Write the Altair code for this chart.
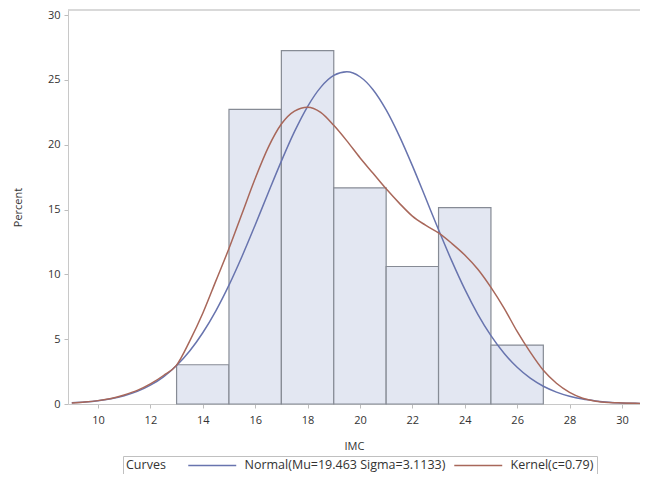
import altair as alt
import pandas as pd

# Histogram bins (IMC) and percentages
bin_start = [13, 15, 17, 19, 21, 23, 25]
bin_end = [15, 17, 19, 21, 23, 25, 27]
bin_pct = [3.03, 22.73, 27.27, 16.67, 10.61, 15.15, 4.55]

# Curve x positions
curve_x = [9, 9.5, 10, 10.5, 11, 11.5, 12, 12.5, 13, 13.5, 14, 14.5, 15, 15.5,
           16, 16.5, 17, 17.5, 18, 18.5, 19, 19.5, 20, 20.5, 21, 21.5, 22, 22.5,
           23, 23.5, 24, 24.5, 25, 25.5, 26, 26.5, 27, 27.5, 28, 28.5, 29, 29.5,
           30, 30.5, 30.9]

normal_y = [0.09, 0.15, 0.25, 0.41, 0.64, 0.97, 1.45, 2.10, 2.97, 4.09, 5.50, 7.19,
            9.17, 11.40, 13.81, 16.30, 18.74, 21.01, 22.95, 24.43, 25.35, 25.63,
            25.25, 24.25, 22.69, 20.69, 18.39, 15.93, 13.44, 11.06, 8.86, 6.92,
            5.27, 3.91, 2.83, 1.99, 1.37, 0.92, 0.60, 0.38, 0.24, 0.14, 0.08, 0.05,
            0.03]

kernel_y = [0.08, 0.15, 0.26, 0.43, 0.70, 1.05, 1.55, 2.20, 3.00, 4.85, 7.00, 9.50,
            12.00, 14.70, 17.40, 19.80, 21.60, 22.60, 22.90, 22.50, 21.50, 20.30,
            19.00, 17.80, 16.60, 15.50, 14.50, 13.80, 13.20, 12.40, 11.50, 10.40,
            9.00, 7.40, 5.60, 4.00, 2.60, 1.60, 0.90, 0.45, 0.22, 0.12, 0.08, 0.05,
            0.03]

normal_name = "Normal(Mu=19.463 Sigma=3.1133)"
kernel_name = "Kernel(c=0.79)"

x_ticks = [10, 12, 14, 16, 18, 20, 22, 24, 26, 28, 30]
y_ticks = [0, 5, 10, 15, 20, 25, 30]

bars_df = pd.DataFrame({"start": bin_start, "end": bin_end, "pct": bin_pct})
curves_df = pd.concat([
    pd.DataFrame({"x": curve_x, "y": normal_y, "curve": normal_name, "order": 0}),
    pd.DataFrame({"x": curve_x, "y": kernel_y, "curve": kernel_name, "order": 1}),
])

FONT = "Open Sans"
W, H = 572, 394
xscale = alt.Scale(domain=[8.855, 30.69], nice=False, zero=False)
yscale = alt.Scale(domain=[0, 30.4], nice=False)

xaxis = alt.Axis(values=x_ticks, title="IMC", grid=False, domain=True,
                 domainColor="#c8c8c8", tickColor="#bdbdbd", tickSize=4,
                 labelPadding=6, titlePadding=15, labelFont=FONT, titleFont=FONT,
                 labelFontSize=11, titleFontSize=11, titleFontWeight="normal",
                 labelColor="#333333", titleColor="#333333", labelFlush=False)
yaxis = alt.Axis(values=y_ticks, title="Percent", grid=False, domain=True,
                 domainColor="#c8c8c8", tickColor="#bdbdbd", tickSize=4,
                 labelPadding=4, labelFont=FONT, titleFont=FONT,
                 labelFontSize=11, titleFontSize=11, titleFontWeight="normal",
                 labelColor="#333333", titleColor="#333333", titleX=-45)

bars = alt.Chart(bars_df).mark_rect(
    fill="#e3e7f2", stroke="#868b95", strokeWidth=1.2
).encode(
    x=alt.X("start:Q", scale=xscale, axis=xaxis),
    x2="end:Q",
    y=alt.Y("pct:Q", scale=yscale, axis=yaxis),
    y2=alt.datum(0),
)

lines = alt.Chart(curves_df).mark_line(
    strokeWidth=1.5, interpolate="monotone", clip=True
).encode(
    x=alt.X("x:Q", scale=xscale, axis=xaxis),
    y=alt.Y("y:Q", scale=yscale, axis=yaxis),
    color=alt.Color(
        "curve:N",
        scale=alt.Scale(domain=[normal_name, kernel_name],
                        range=["#6874ae", "#a8675a"]),
        legend=alt.Legend(
            title="Curves", orient="none", legendX=55, legendY=446,
            direction="horizontal", columns=2, titleOrient="left",
            titleFont=FONT, titleFontSize=12.5, titleFontWeight="normal",
            titleColor="#333333", titlePadding=40, titleBaseline="middle",
            labelFont=FONT, labelFontSize=12.5, labelColor="#333333",
            symbolType="M-5,0L5,0", symbolSize=92, symbolStrokeWidth=1.5,
            columnPadding=5, labelOffset=26, strokeColor="#c0c0c0",
            padding=3, labelLimit=400,
        ),
    ),
    order="order:Q",
)

top_line = alt.Chart(pd.DataFrame({"a": [0]})).mark_rule(
    color="#cccccc", strokeWidth=1.5
).encode(x=alt.value(0), x2=alt.value(W), y=alt.value(0))

chart = alt.layer(bars, lines, top_line).properties(
    width=W, height=H,
    autosize=alt.AutoSizeParams(type="none"),
    padding={"left": 60, "top": 2, "right": 0, "bottom": 70},
).configure_view(strokeWidth=0)

chart.save("out.html", embed_options={"renderer": "svg", "actions": False})
